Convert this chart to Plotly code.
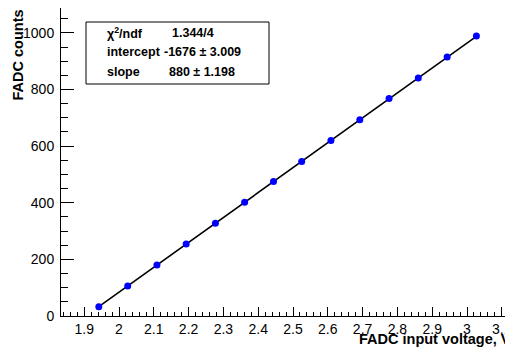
import plotly.graph_objects as go

# ---- data ----
voltage = [1.942, 2.025, 2.109, 2.193, 2.277, 2.361, 2.444, 2.525, 2.609, 2.692, 2.776, 2.860, 2.943, 3.027]
counts = [33, 106, 180, 254, 328, 402, 475, 546, 620, 693, 768, 841, 915, 989]

fit_slope = 880.0
fit_intercept = -1676.0
stat_labels = ["χ<sup>2</sup>/ndf", "intercept", "slope"]
stat_values = ["1.344/4", "-1676 ± 3.009", "880 ± 1.198"]

fit_x = [voltage[0], voltage[-1]]
fit_y = [fit_slope * v + fit_intercept for v in fit_x]

# page body has an 8px margin; figure is shrunk to compensate
OFF = 8
W, H = 513 - OFF, 349 - OFF
# plot area in reference pixels
PL, PR, PT, PB = 61, 513, 8, 316
PW, PH = PR - PL, PB - PT

def px(x):
    return (x - PL) / PW

def py(y):
    return (PB - y) / PH

FONT = "Liberation Sans, Arial, sans-serif"

fig = go.Figure()
fig.add_trace(go.Scatter(x=fit_x, y=fit_y, mode="lines",
                         line=dict(color="black", width=1.6), hoverinfo="skip"))
fig.add_trace(go.Scatter(x=voltage, y=counts, mode="markers",
                         marker=dict(color="#0000ff", size=7, line=dict(width=0))))

x0 = 2 - (119 - PL) / 348.0
fig.update_layout(
    width=W, height=H,
    margin=dict(l=PL - OFF, r=513 - PR, t=PT - OFF, b=349 - PB, pad=0),
    paper_bgcolor="white", plot_bgcolor="white",
    showlegend=False,
    font=dict(family=FONT, size=14, color="black"),
    xaxis=dict(range=[x0, x0 + PW / 348.0], showgrid=False, zeroline=False,
               showline=True, linecolor="black", linewidth=1, mirror=True,
               automargin=False,
               ticks="inside", ticklen=9, tickcolor="black", tickwidth=1,
               dtick=0.1, tick0=2.0, tickformat="~g",
               minor=dict(ticks="inside", ticklen=4.5, dtick=0.02, tick0=2.0,
                          tickcolor="black", showgrid=False),
               tickfont=dict(size=14, family=FONT)),
    yaxis=dict(range=[0, 1088], showgrid=False, zeroline=False,
               showline=True, linecolor="black", linewidth=1, mirror=False,
               automargin=False,
               ticks="inside", ticklen=13, tickcolor="black", tickwidth=1,
               dtick=200, tick0=0,
               minor=dict(ticks="inside", ticklen=6.5, dtick=50, tick0=0,
                          tickcolor="black", showgrid=False),
               tickfont=dict(size=14, family=FONT), ticklabelstandoff=3),
)

annots = []
# axis titles
annots.append(dict(text="<b>FADC input voltage, V</b>", xref="paper", yref="paper",
                   x=px(513), y=py(348.5), xanchor="right", yanchor="bottom",
                   showarrow=False, font=dict(size=14.5, family=FONT)))
annots.append(dict(text="<b>FADC counts</b>", xref="paper", yref="paper",
                   x=px(17), y=py(8), xanchor="center", yanchor="top", textangle=-90,
                   showarrow=False, font=dict(size=14.5, family=FONT)))
# stats box
fig.add_shape(type="rect", xref="paper", yref="paper",
              x0=px(86), x1=px(269), y0=py(84), y1=py(22),
              line=dict(color="black", width=1), fillcolor="white", layer="above")
rows_y = [33, 52, 72]
vals_x = [170, 162, 167]
for lab, val, yy, vx in zip(stat_labels, stat_values, rows_y, vals_x):
    annots.append(dict(text="<b>" + lab + "</b>", xref="paper", yref="paper",
                       x=px(105), y=py(yy), xanchor="left", yanchor="middle",
                       showarrow=False, font=dict(size=12.5, family=FONT)))
    annots.append(dict(text="<b>" + val + "</b>", xref="paper", yref="paper",
                       x=px(vx), y=py(yy), xanchor="left", yanchor="middle",
                       showarrow=False, font=dict(size=12.5, family=FONT)))
fig.update_layout(annotations=annots)

fig.write_html("out.html")
